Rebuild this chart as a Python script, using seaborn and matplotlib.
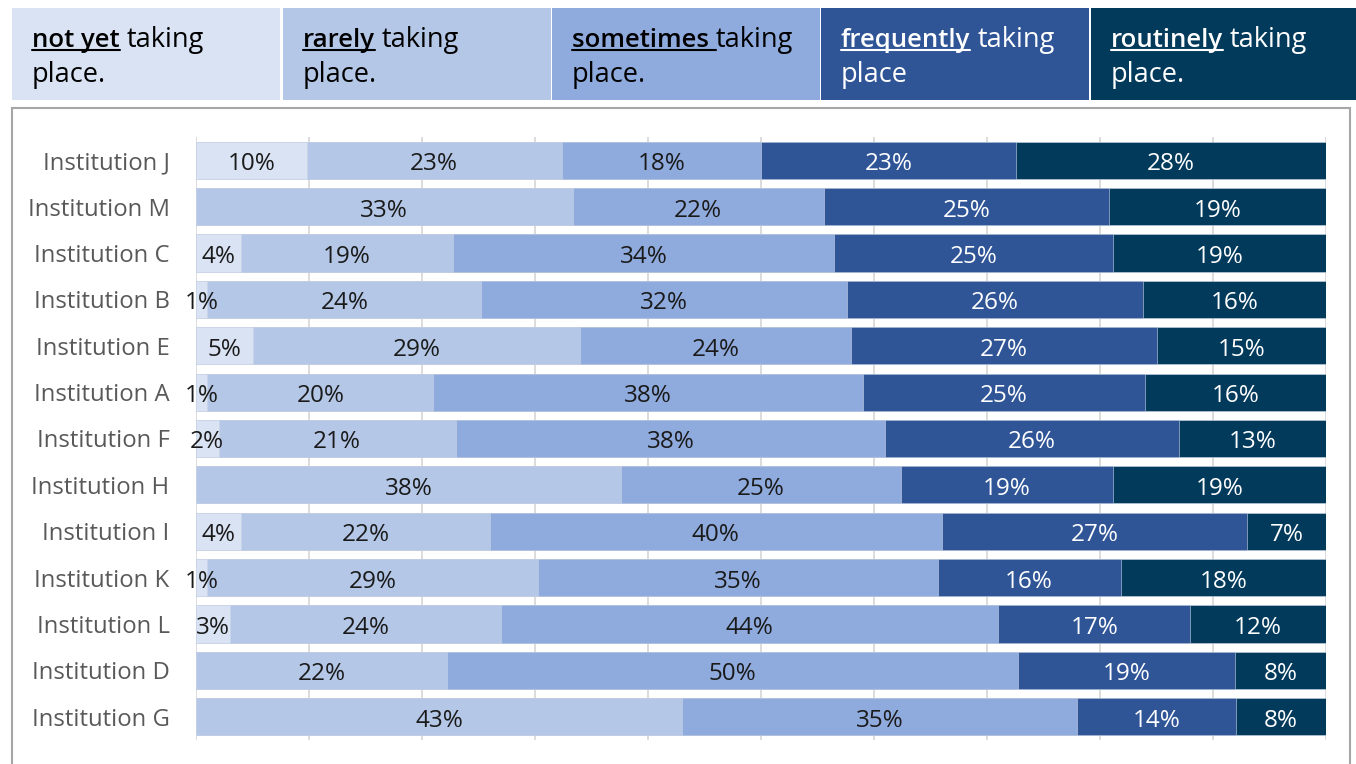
import matplotlib
matplotlib.use("Agg")
import matplotlib.pyplot as plt
from matplotlib.patches import Rectangle
from matplotlib.lines import Line2D
import numpy as np
import pandas as pd
import seaborn as sns

# ---- data -------------------------------------------------------------
institutions = ["Institution J", "Institution M", "Institution C", "Institution B",
                "Institution E", "Institution A", "Institution F", "Institution H",
                "Institution I", "Institution K", "Institution L", "Institution D",
                "Institution G"]
not_yet    = [10, 0, 4, 1, 5, 1, 2, 0, 4, 1, 3, 0, 0]
rarely     = [23, 33, 19, 24, 29, 20, 21, 38, 22, 29, 24, 22, 43]
sometimes  = [18, 22, 34, 32, 24, 38, 38, 25, 40, 35, 44, 50, 35]
frequently = [23, 25, 25, 26, 27, 25, 26, 19, 27, 16, 17, 19, 14]
routinely  = [28, 19, 19, 16, 15, 16, 13, 19, 7, 18, 12, 8, 8]

levels = ["not yet", "rarely", "sometimes", "frequently", "routinely"]
colors = ["#DAE3F3", "#B4C7E7", "#8FAADC", "#2F5597", "#023A5C"]
text_colors = ["#1a1a1a", "#1a1a1a", "#1a1a1a", "white", "white"]

df = pd.DataFrame({"institution": institutions, "not yet": not_yet, "rarely": rarely,
                   "sometimes": sometimes, "frequently": frequently,
                   "routinely": routinely})
vals = df[levels].to_numpy(dtype=float)
share = vals / vals.sum(axis=1, keepdims=True) * 100  # 100% stacked
cum = np.cumsum(share, axis=1)

# ---- figure -----------------------------------------------------------
sns.set_style("white")
plt.rcParams["font.family"] = ["Open Sans", "DejaVu Sans"]

W, H = 1356, 764
fig = plt.figure(figsize=(W / 100, H / 100), dpi=100)


def fx(px):
    return px / W


def fy(py):
    return 1 - py / H


# chart frame
fig.add_artist(Rectangle((fx(12), fy(800)), fx(1350) - fx(12), fy(108) - fy(800),
                         transform=fig.transFigure, fill=False,
                         edgecolor="#A6A6A6", lw=1.5))

ax = fig.add_axes([fx(196), fy(740), fx(1326) - fx(196), fy(137) - fy(740)])

# stacked bars: draw cumulative totals from the right-most level backwards
for i in range(len(levels) - 1, -1, -1):
    plot_df = pd.DataFrame({"institution": institutions, "cum": cum[:, i]})
    sns.barplot(data=plot_df, x="cum", y="institution", orient="h",
                color=colors[i], saturation=1, width=0.8, ax=ax,
                edgecolor="#c9d4e6", linewidth=0.4)

# segment labels
for r in range(len(institutions)):
    for i in range(len(levels)):
        if vals[r, i] <= 0:
            continue
        center = cum[r, i] - share[r, i] / 2
        ax.text(center, r + 0.02, f"{int(vals[r, i])}%", ha="center",
                va="center_baseline", fontsize=17.5, color=text_colors[i])

ax.set_xlim(0, 100)
ax.set_ylim(12.5, -0.5)
ax.set_xticks(np.arange(0, 101, 10))
ax.set_xticklabels([])
ax.grid(axis="x", color="#D9D9D9", lw=1.3)
ax.set_axisbelow(True)
ax.tick_params(axis="both", length=0)
ax.tick_params(axis="y", pad=19, labelsize=17.2, labelcolor="#595959")
for lab in ax.get_yticklabels():
    lab.set_verticalalignment("center_baseline")
ax.set_xlabel("")
ax.set_ylabel("")
for s in ax.spines.values():
    s.set_visible(False)

# ---- header legend ----------------------------------------------------
box_x = [12, 283, 552, 821, 1091]
box_w = 268
line2 = ["place.", "place.", "place.", "place", "place."]
heads = ["not yet", "rarely", "sometimes ", "frequently", "routinely"]
renderer = fig.canvas.get_renderer()
hdr_size = 19.5
for k in range(5):
    x0 = box_x[k]
    fig.add_artist(Rectangle((fx(x0), fy(100)), fx(box_w), fy(8) - fy(100),
                             transform=fig.transFigure, facecolor=colors[k],
                             edgecolor="none"))
    tc = "black" if k < 3 else "white"
    tx = x0 + 20
    t1 = fig.text(fx(tx), fy(47), heads[k], fontsize=18.5, fontweight="semibold",
                  color=tc, va="baseline", ha="left")
    bb = t1.get_window_extent(renderer)
    fig.add_artist(Line2D([fx(tx), fx(tx + bb.width)], [fy(50), fy(50)],
                          transform=fig.transFigure, color=tc, lw=1.5))
    gap = 0 if heads[k].endswith(" ") else 7
    fig.text(fx(tx + bb.width + gap), fy(47), "taking", fontsize=hdr_size,
             color=tc, va="baseline", ha="left")
    fig.text(fx(tx), fy(82), line2[k], fontsize=hdr_size, color=tc,
             va="baseline", ha="left")

fig.savefig("out.png", dpi=100)
